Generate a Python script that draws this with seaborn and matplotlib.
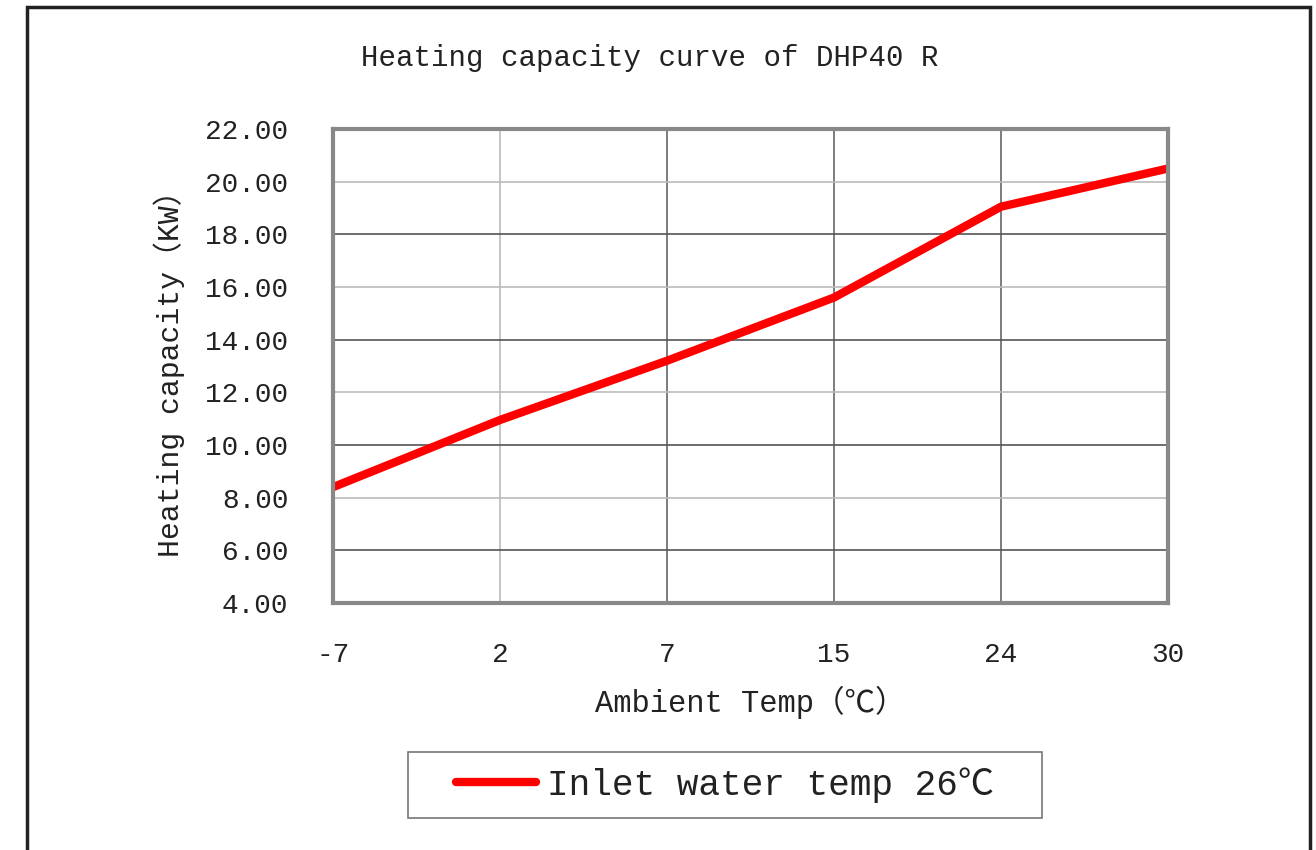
import matplotlib
matplotlib.use("Agg")
import matplotlib.pyplot as plt
from matplotlib.patches import Rectangle
import pandas as pd
import seaborn as sns

# data
ambient_temp = ["-7", "2", "7", "15", "24", "30"]
capacity_kw = [8.4, 10.95, 13.2, 15.6, 19.05, 20.5]
series_name = "Inlet water temp 26℃"
y_ticks = [4, 6, 8, 10, 12, 14, 16, 18, 20, 22]

df = pd.DataFrame({"temp": ambient_temp, "capacity": capacity_kw, "series": series_name})

sns.set_theme(style="white")
plt.rcParams["font.family"] = ["Liberation Mono", "Noto Sans CJK SC", "DejaVu Sans"]

fig = plt.figure(figsize=(13.16, 8.5), dpi=100)
ax = fig.add_axes([333 / 1316, 1 - 603 / 850, (1168 - 333) / 1316, (603 - 129) / 850])

sns.lineplot(data=df, x="temp", y="capacity", hue="series", palette=["#ff0000"],
             linewidth=6, sort=False, ax=ax, legend=True)

ax.set_xlim(0, len(ambient_temp) - 1)
ax.set_ylim(4, 22)
ax.set_yticks(y_ticks)
ax.set_yticklabels([f"{v:.2f}" for v in y_ticks])
ax.tick_params(axis="both", direction="in", length=5, color="#666666",
               labelsize=20, labelcolor="#222222")
ax.tick_params(axis="y", pad=32)
ax.tick_params(axis="x", pad=28)

ax.grid(True, color="#555555", linewidth=1.2)
for i, gl in enumerate(ax.get_ygridlines()):
    gl.set_color("#bbbbbb" if i % 2 == 0 else "#555555")
for i, gl in enumerate(ax.get_xgridlines()):
    gl.set_color("#bbbbbb" if i == 1 else "#666666")
ax.set_axisbelow(True)
for sp in ax.spines.values():
    sp.set_color("#888888")
    sp.set_linewidth(3)

ax.set_xlabel("Ambient Temp（℃）", fontsize=22, color="#222222", labelpad=13)
ax.set_ylabel("Heating capacity（KW）", fontsize=21.5, color="#222222", labelpad=15)

fig.text(650 / 1316, 1 - 58 / 850, "Heating capacity curve of DHP40 R",
         ha="center", va="center", fontsize=21, color="#222222")

leg = ax.legend(loc="center", bbox_to_anchor=(725 / 1316, 1 - 785 / 850),
                bbox_transform=fig.transFigure, fontsize=26, frameon=False,
                handlelength=2.2, handletextpad=0.3, title=None)
for t in leg.get_texts():
    t.set_color("#222222")

# legend box, wider than matplotlib's own padding allows
fig.add_artist(Rectangle((408 / 1316, 1 - 818 / 850), (1042 - 408) / 1316, 66 / 850,
                         transform=fig.transFigure, fill=False, lw=1.2,
                         edgecolor="#777777"))

# outer frame around the picture (open at the bottom)
fig.add_artist(Rectangle((27 / 1316, -0.1), (1310 - 27) / 1316, 1 - 7 / 850 + 0.1,
                         transform=fig.transFigure, fill=False, lw=2.5,
                         edgecolor="#222222"))

fig.savefig("out.png", dpi=100, facecolor="white")
